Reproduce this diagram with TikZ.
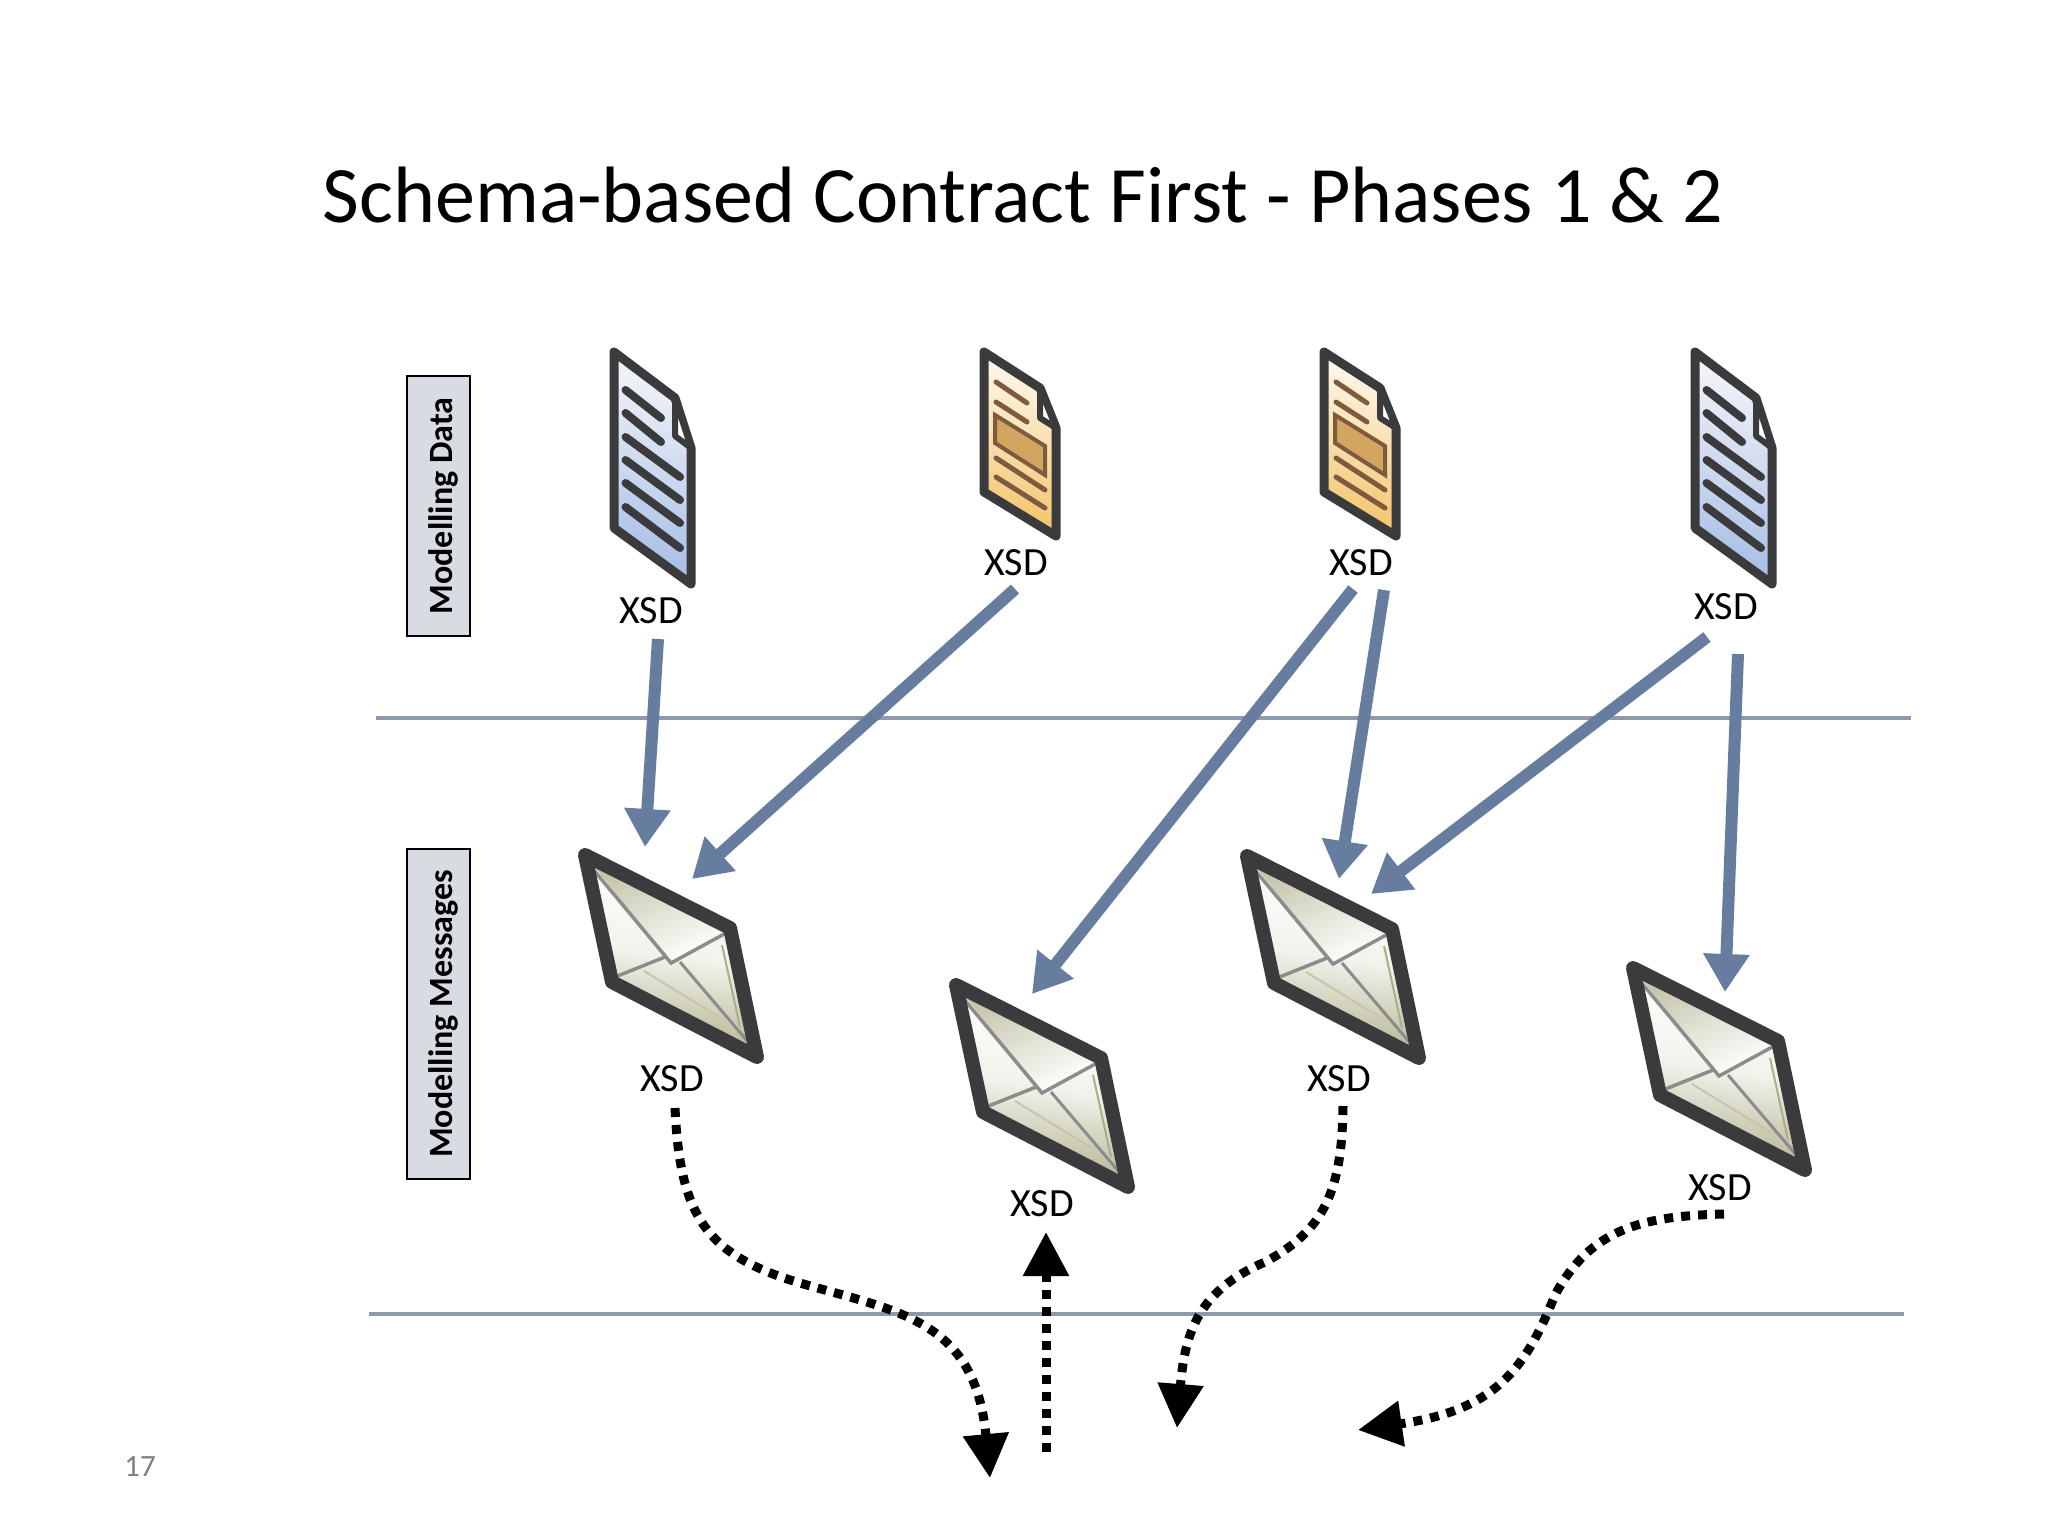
\documentclass[tikz,border=0pt]{standalone}
\usepackage{fontspec}
\setmainfont{Carlito}
\usetikzlibrary{arrows.meta}
\definecolor{docdark}{HTML}{3B3B3D}
\definecolor{bluedoctop}{HTML}{F5F5F9}
\definecolor{bluedocbot}{HTML}{A6BEE6}
\definecolor{orgdoctop}{HTML}{FEF9F0}
\definecolor{orgdocbot}{HTML}{F3C46A}
\definecolor{orgline}{HTML}{7E5B3E}
\definecolor{orgbox}{HTML}{D2A560}
\definecolor{flowblue}{HTML}{667D9F}
\definecolor{rulecol}{HTML}{8E9AAC}
\definecolor{boxgrey}{HTML}{D9DBE2}
\definecolor{envlow}{HTML}{ADAD88}
\definecolor{envline}{HTML}{8C8C8C}
\tikzset{
  x=1pt,y=-1pt,
  xsd/.style={font=\fontsize{40}{40}\selectfont,inner sep=0pt,anchor=center},
  sidebox/.style={draw=black,line width=2pt,fill=boxgrey,inner sep=0pt,rotate=90,
    font=\fontsize{34}{34}\selectfont\bfseries,align=center},
  rulerline/.style={draw=rulecol,line width=4pt},
  flow/.style={draw=flowblue,line width=12pt,-{Triangle[length=38pt,width=44pt]}},
  dotflow/.style={draw=black,line width=9pt,dash pattern=on 9pt off 8pt,-{Triangle[length=44pt,width=44pt]}},
  doctext/.style={draw=docdark,line width=8pt,line cap=round},
  orgtext/.style={draw=orgline,line width=5pt,line cap=round},
  bluedoc/.pic={
    \shade[top color=bluedoctop,bottom color=bluedocbot,shading angle=-12]
      (4,4)--(65,50)--(81,100)--(81,236)--(4,180)--cycle;
    \draw[docdark,line width=9pt,line join=round]
      (4,4)--(65,50)--(81,100)--(81,236)--(4,180)--cycle;
    \draw[docdark,line width=6pt,line join=round,fill=white] (65,50)--(65,88)--(81,100)--cycle;
    \draw[doctext] (15.5,42)--(51,70);
    \draw[doctext] (15.5,65)--(51,94);
    \draw[doctext] (15.5,89)--(70,129);
    \draw[doctext] (15.5,112)--(70,152);
    \draw[doctext] (15.5,135)--(70,175);
    \draw[doctext] (15.5,159)--(70,200);
  },
  orgdoc/.pic={
    \shade[top color=orgdoctop,bottom color=orgdocbot,shading angle=-10]
      (4,4)--(60,40)--(76,80)--(76,188)--(4,144)--cycle;
    \draw[docdark,line width=9pt,line join=round]
      (4,4)--(60,40)--(76,80)--(76,188)--(4,144)--cycle;
    \draw[docdark,line width=6pt,line join=round,fill=white] (60,40)--(60,70)--(76,80)--cycle;
    \draw[orgtext] (16,34)--(47,55);
    \draw[orgtext] (16,54)--(47,74);
    \draw[draw=orgline,line width=4pt,fill=orgbox] (15,67)--(65,98)--(65,127)--(15,95)--cycle;
    \draw[orgtext] (16,110)--(65,142);
    \draw[orgtext] (16,129)--(65,160);
  },
  letter/.pic={
    \shade[top color=white,bottom color=envlow,shading angle=-8,middle color=white!85!envlow]
      (6,7)--(151,80)--(178,209)--(33,134)--cycle;
    \begin{scope}
      \clip (6,7)--(151,80)--(92,115)--cycle;
      \shade[left color=envlow!75!white,right color=white,shading angle=25] (6,7) rectangle (151,115);
    \end{scope}
    \draw[envline,line width=3.5pt] (13,20)--(92,115)--(147,85);
    \draw[envline,line width=3.5pt] (36,129)--(86,109);
    \draw[envline,line width=3pt] (101,114)--(170,195);
    \draw[envlow,line width=2pt] (143,97)--(161,179);
    \draw[envlow!70!white,line width=2pt] (65,123)--(145,172);
    \draw[docdark,line width=14pt,line join=round]
      (6,7)--(151,80)--(178,209)--(33,134)--cycle;
  }
}
\begin{document}
\begin{tikzpicture}
\useasboundingbox (0,0) rectangle (2048,1536);
\node[font=\fontsize{80}{80}\selectfont,inner sep=0pt,anchor=center] (title) at (1023,195) {Schema-based Contract First - Phases 1 \& 2};
\node[font=\fontsize{31}{31}\selectfont,text=black!50,inner sep=0pt] (pagenum) at (140,1467) {17};

\node[sidebox,minimum width=260pt,minimum height=63pt] (boxdata) at (438.5,506) {\smash{\raisebox{-14pt}{Modelling Data}}};
\node[sidebox,minimum width=330pt,minimum height=63pt] (boxmsg) at (438.5,1014) {\smash{\raisebox{-14pt}{Modelling Messages}}};

\coordinate (ruleAa) at (376,718); \coordinate (ruleAb) at (1911,718);
\coordinate (ruleBa) at (369,1314); \coordinate (ruleBb) at (1904,1314);
\draw[rulerline] (ruleAa) -- (ruleAb);
\draw[rulerline] (ruleBa) -- (ruleBb);

\pic (docA) at (610,348) {bluedoc};
\pic (docB) at (980,348) {orgdoc};
\pic (docC) at (1320,348) {orgdoc};
\pic (docD) at (1691,348) {bluedoc};

\pic (envA) at (579,848) {letter};
\pic (envB) at (950,978) {letter};
\pic (envC) at (1241,849) {letter};
\pic (envD) at (1627,961) {letter};

\node[xsd] (xA) at (651,611) {XSD};
\node[xsd] (xB) at (1016,563) {XSD};
\node[xsd] (xC) at (1361,563) {XSD};
\node[xsd] (xD) at (1726,607) {XSD};
\node[xsd] (mA) at (672,1079) {XSD};
\node[xsd] (mB) at (1042,1204) {XSD};
\node[xsd] (mC) at (1339,1079) {XSD};
\node[xsd] (mD) at (1720,1188) {XSD};

\coordinate (a1s) at (658,639); \coordinate (a1e) at (645,847);
\coordinate (a2s) at (1015,589); \coordinate (a2e) at (692,879);
\coordinate (a3s) at (1353,589); \coordinate (a3e) at (1032,994);
\coordinate (a4s) at (1384,590); \coordinate (a4e) at (1339,879);
\coordinate (a5s) at (1707,637); \coordinate (a5e) at (1371,894);
\coordinate (a6s) at (1738,654); \coordinate (a6e) at (1725,992);
\draw[flow] (a1s) -- (a1e);
\draw[flow] (a2s) -- (a2e);
\draw[flow] (a3s) -- (a3e);
\draw[flow] (a4s) -- (a4e);
\draw[flow] (a5s) -- (a5e);
\draw[flow] (a6s) -- (a6e);

\coordinate (d1s) at (675,1108); \coordinate (d1e) at (990,1478);
\coordinate (d2s) at (1046,1452); \coordinate (d2e) at (1046,1232);
\coordinate (d3s) at (1343,1106); \coordinate (d3e) at (1177,1428);
\coordinate (d4s) at (1724,1214); \coordinate (d4e) at (1358,1430);
\draw[dotflow] (d1s) .. controls (680,1215) and (705,1255) .. (800,1283) .. controls (900,1312) and (975,1320) .. (d1e);
\draw[dotflow] (d2s) -- (d2e);
\draw[dotflow] (d3s) .. controls (1342,1190) and (1325,1230) .. (1265,1262) .. controls (1200,1290) and (1185,1330) .. (d3e);
\draw[dotflow] (d4s) .. controls (1640,1216) and (1590,1230) .. (1555,1295) .. controls (1525,1370) and (1495,1410) .. (d4e);
\end{tikzpicture}
\end{document}
